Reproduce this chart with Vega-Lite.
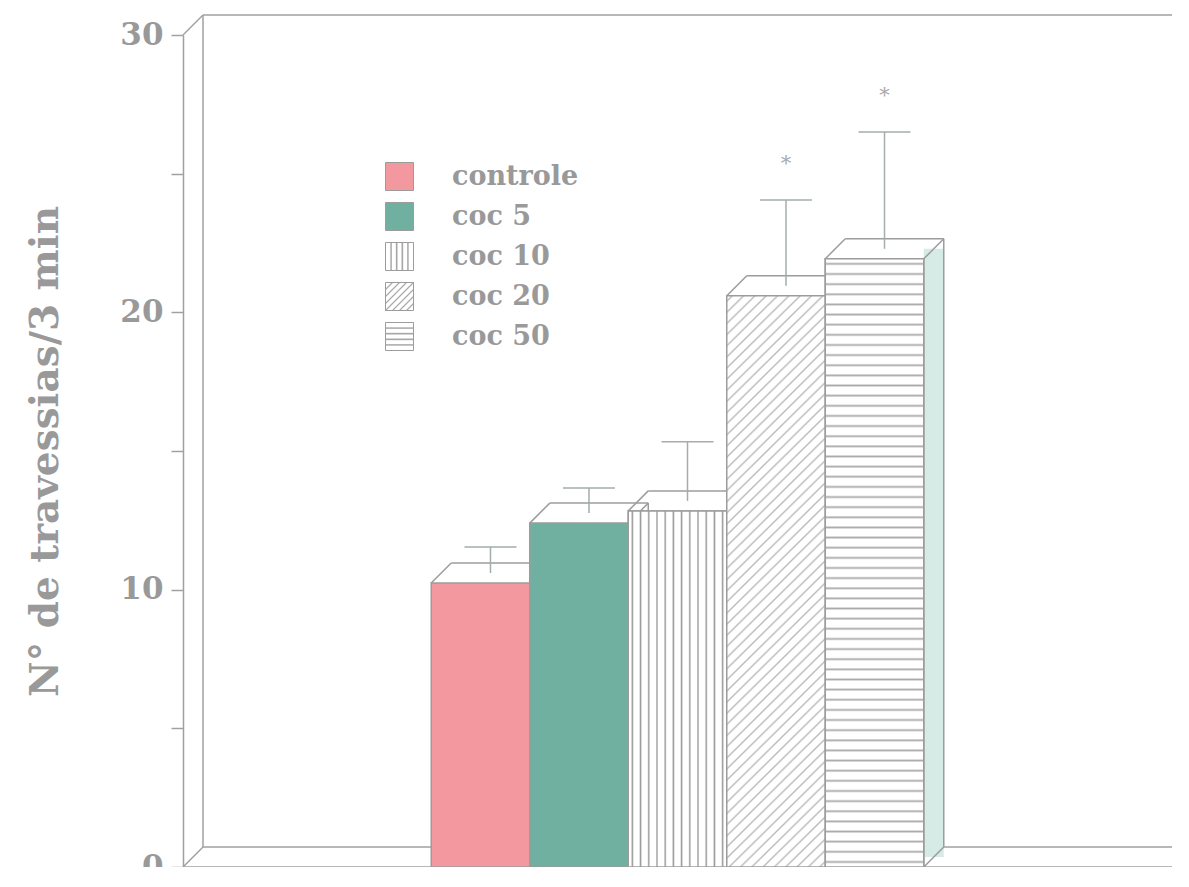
{
"$schema": "https://vega.github.io/schema/vega-lite/v6.json",
"width": 989,
"height": 832,
"autosize": "none",
"padding": {"left": 183, "top": 35, "right": 0, "bottom": 0},
"background": "white",
"config": {"view": {"stroke": null}},
"datasets": {
"grupos": [
{"grupo": "controle", "media": 10.24, "sup": 11.54, "sig": ""},
{"grupo": "coc 5", "media": 12.4, "sup": 13.67, "sig": ""},
{"grupo": "coc 10", "media": 12.84, "sup": 15.33, "sig": ""},
{"grupo": "coc 20", "media": 20.6, "sup": 24.05, "sig": "*"},
{"grupo": "coc 50", "media": 21.93, "sup": 26.5, "sig": "*"}
],
"moldura": [{"k": 1}]
},
"resolve": {"scale": {"x": "independent"}},
"layer": [
{
"data": {"name": "moldura"},
"encoding": {"x": {"datum": 0, "type": "quantitative", "scale": {"domain": [0, 1], "nice": false, "zero": false}, "axis": null}},
"layer": [
{"mark": {"type": "rule", "color": "#a0a0a0", "strokeWidth": 1.5, "xOffset": 20, "yOffset": -20, "y2Offset": -20},
 "encoding": {"x": {"datum": 0, "type": "quantitative"}, "y": {"datum": 0, "type": "quantitative"}, "y2": {"datum": 30}}},
{"mark": {"type": "rule", "color": "#a0a0a0", "strokeWidth": 1.5, "xOffset": 20, "x2Offset": 40, "yOffset": -20},
 "encoding": {"x": {"datum": 0, "type": "quantitative"}, "x2": {"datum": 1}, "y": {"datum": 30, "type": "quantitative"}}},
{"mark": {"type": "rule", "color": "#a0a0a0", "strokeWidth": 1.5, "xOffset": 20, "x2Offset": 20, "yOffset": -20},
 "encoding": {"x": {"datum": 0, "type": "quantitative"}, "x2": {"datum": 1}, "y": {"datum": 0, "type": "quantitative"}}},
{"mark": {"type": "rule", "color": "#a0a0a0", "strokeWidth": 1.5},
 "encoding": {"x": {"datum": 0, "type": "quantitative"}, "x2": {"datum": 1}, "y": {"datum": 0, "type": "quantitative"}}},
{"mark": {"type": "point", "shape": "M-1,1L1,-1", "size": 400, "filled": false, "opacity": 1, "stroke": "#a0a0a0", "strokeWidth": 1.5, "xOffset": 10, "yOffset": -10},
 "encoding": {"x": {"datum": 0, "type": "quantitative"}, "y": {"datum": 30, "type": "quantitative"}}},
{"mark": {"type": "point", "shape": "M-1,1L1,-1", "size": 400, "filled": false, "opacity": 1, "stroke": "#a0a0a0", "strokeWidth": 1.5, "xOffset": 10, "yOffset": -10},
 "encoding": {"x": {"datum": 0, "type": "quantitative"}, "y": {"datum": 0, "type": "quantitative"}}},
{"mark": {"type": "point", "shape": "M-1,1L1,-1", "size": 400, "filled": false, "opacity": 1, "stroke": "#a0a0a0", "strokeWidth": 1.5, "xOffset": 10, "yOffset": -10},
 "encoding": {"x": {"datum": 1, "type": "quantitative"}, "y": {"datum": 0, "type": "quantitative"}}}
]
},
{
"data": {"name": "grupos"},
"encoding": {
 "x": {"field": "grupo", "type": "nominal", "sort": null, "axis": null,
   "scale": {"domain": ["_a", "_b", "controle", "coc 5", "coc 10", "coc 20", "coc 50", "_c", "_d"], "paddingInner": 0, "paddingOuter": 0.52}}
},
"layer": [
{"mark": {"type": "bar", "width": 20, "xOffset": 59.25, "yOffset": -10, "y2Offset": -10, "fill": "#d6ebe5", "stroke": null},
 "encoding": {
  "y": {"field": "media", "type": "quantitative", "title": "N° de travessias/3 min",
    "scale": {"domain": [0, 30], "nice": false, "zero": true},
    "axis": {"title": "N° de travessias/3 min", "values": [0, 5, 10, 15, 20, 25, 30],
      "labelExpr": "datum.value % 10 === 0 ? datum.label : ''",
      "grid": false, "domainColor": "#a0a0a0", "domainWidth": 1.5, "tickColor": "#a0a0a0", "tickWidth": 1.5, "tickSize": 12,
      "labelFont": "DejaVu Serif", "labelFontWeight": "bold", "labelFontSize": 31, "labelColor": "#999999", "labelPadding": 8,
      "titleFont": "DejaVu Serif", "titleFontWeight": "bold", "titleFontSize": 39, "titleColor": "#999999", "titlePadding": 54}},
  "y2": {"datum": 0}}},
{"mark": {"type": "point", "shape": "M-1,1L1,-1", "size": 400, "filled": false, "opacity": 1, "stroke": "#9c9c9c", "strokeWidth": 1.5, "xOffset": 10, "yOffset": -10},
 "encoding": {"x": {"field": "grupo", "type": "nominal", "bandPosition": 0}, "y": {"field": "media", "type": "quantitative", "title": "N° de travessias/3 min"}}},
{"mark": {"type": "point", "shape": "M-1,1L1,-1", "size": 400, "filled": false, "opacity": 1, "stroke": "#9c9c9c", "strokeWidth": 1.5, "xOffset": 10, "yOffset": -10},
 "encoding": {"x": {"field": "grupo", "type": "nominal", "bandPosition": 1}, "y": {"field": "media", "type": "quantitative", "title": "N° de travessias/3 min"}}},
{"mark": {"type": "point", "shape": "M-1,1L1,-1", "size": 400, "filled": false, "opacity": 1, "stroke": "#9c9c9c", "strokeWidth": 1.5, "xOffset": 10, "yOffset": -10},
 "encoding": {"x": {"field": "grupo", "type": "nominal", "bandPosition": 1}, "y": {"datum": 0, "type": "quantitative"}}},
{"mark": {"type": "point", "shape": "M-1,0L1,0", "size": 9702, "filled": false, "opacity": 1, "stroke": "#9c9c9c", "strokeWidth": 1.5, "xOffset": 20, "yOffset": -20},
 "encoding": {"y": {"field": "media", "type": "quantitative", "title": "N° de travessias/3 min"}}},
{"mark": {"type": "rule", "color": "#9c9c9c", "strokeWidth": 1.5, "xOffset": 69.25, "yOffset": -20, "y2Offset": -20},
 "encoding": {"y": {"field": "media", "type": "quantitative", "title": "N° de travessias/3 min"}, "y2": {"datum": 0}}},
{"mark": {"type": "bar", "stroke": "#9c9c9c", "strokeWidth": 1.5},
 "encoding": {
  "y": {"field": "media", "type": "quantitative", "title": "N° de travessias/3 min"},
  "fill": {"field": "grupo", "type": "nominal", "sort": null,
    "scale": {"domain": ["controle", "coc 5", "coc 10", "coc 20", "coc 50"],
      "range": ["#f3989e", "#6fb0a1",
        {"expr": "{gradient:'linear',x1:0,y1:0,x2:1,y2:0,stops:[{offset:0.15,color:'#fff'},{offset:0.2,color:'#999'},{offset:0.25,color:'#fff'},{offset:0.35,color:'#fff'},{offset:0.4,color:'#999'},{offset:0.45,color:'#fff'},{offset:0.55,color:'#fff'},{offset:0.6,color:'#999'},{offset:0.65,color:'#fff'},{offset:0.75,color:'#fff'},{offset:0.8,color:'#999'},{offset:0.85,color:'#fff'}]}"},
        {"expr": "{gradient:'linear',x1:0,y1:0,x2:1,y2:1,stops:[{offset:0.095,color:'#fff'},{offset:0.125,color:'#aaa'},{offset:0.155,color:'#fff'},{offset:0.22,color:'#fff'},{offset:0.25,color:'#aaa'},{offset:0.28,color:'#fff'},{offset:0.345,color:'#fff'},{offset:0.375,color:'#aaa'},{offset:0.405,color:'#fff'},{offset:0.47,color:'#fff'},{offset:0.5,color:'#aaa'},{offset:0.53,color:'#fff'},{offset:0.595,color:'#fff'},{offset:0.625,color:'#aaa'},{offset:0.655,color:'#fff'},{offset:0.72,color:'#fff'},{offset:0.75,color:'#aaa'},{offset:0.78,color:'#fff'},{offset:0.845,color:'#fff'},{offset:0.875,color:'#aaa'},{offset:0.905,color:'#fff'}]}"},
        {"expr": "{gradient:'linear',x1:1,y1:0,x2:1,y2:1,stops:[{offset:0.15,color:'#fff'},{offset:0.2,color:'#999'},{offset:0.25,color:'#fff'},{offset:0.35,color:'#fff'},{offset:0.4,color:'#999'},{offset:0.45,color:'#fff'},{offset:0.55,color:'#fff'},{offset:0.6,color:'#999'},{offset:0.65,color:'#fff'},{offset:0.75,color:'#fff'},{offset:0.8,color:'#999'},{offset:0.85,color:'#fff'}]}"}
      ]},
    "legend": {"title": null, "orient": "none", "legendX": 202, "legendY": 127, "padding": 0,
      "symbolType": "square", "symbolSize": 784, "symbolStrokeColor": "#9c9c9c", "symbolStrokeWidth": 1,
      "labelFont": "DejaVu Serif", "labelFontWeight": "bold", "labelFontSize": 27, "labelColor": "#999999",
      "labelOffset": 38, "rowPadding": 7}}
 }},
{"transform": [{"filter": {"field": "grupo", "equal": "coc 10"}}],
 "mark": {"type": "bar", "stroke": "#9c9c9c", "strokeWidth": 1.5,
   "fill": {"gradient": "linear", "x1": 0, "y1": 0, "x2": 1, "y2": 0, "stops": [
          {"offset": 0.0267, "color": "#fff"}, {"offset": 0.0417, "color": "#999"}, {"offset": 0.0567, "color": "#fff"},
          {"offset": 0.11, "color": "#fff"}, {"offset": 0.125, "color": "#999"}, {"offset": 0.14, "color": "#fff"},
          {"offset": 0.1933, "color": "#fff"}, {"offset": 0.2083, "color": "#999"}, {"offset": 0.2233, "color": "#fff"},
          {"offset": 0.2767, "color": "#fff"}, {"offset": 0.2917, "color": "#999"}, {"offset": 0.3067, "color": "#fff"},
          {"offset": 0.36, "color": "#fff"}, {"offset": 0.375, "color": "#999"}, {"offset": 0.39, "color": "#fff"},
          {"offset": 0.4433, "color": "#fff"}, {"offset": 0.4583, "color": "#999"}, {"offset": 0.4733, "color": "#fff"},
          {"offset": 0.5267, "color": "#fff"}, {"offset": 0.5417, "color": "#999"}, {"offset": 0.5567, "color": "#fff"},
          {"offset": 0.61, "color": "#fff"}, {"offset": 0.625, "color": "#999"}, {"offset": 0.64, "color": "#fff"},
          {"offset": 0.6933, "color": "#fff"}, {"offset": 0.7083, "color": "#999"}, {"offset": 0.7233, "color": "#fff"},
          {"offset": 0.7767, "color": "#fff"}, {"offset": 0.7917, "color": "#999"}, {"offset": 0.8067, "color": "#fff"},
          {"offset": 0.86, "color": "#fff"}, {"offset": 0.875, "color": "#999"}, {"offset": 0.89, "color": "#fff"},
          {"offset": 0.9433, "color": "#fff"}, {"offset": 0.9583, "color": "#999"}, {"offset": 0.9733, "color": "#fff"}]}},
 "encoding": {"y": {"field": "media", "type": "quantitative", "title": "N° de travessias/3 min"}}},
{"transform": [{"filter": {"field": "grupo", "equal": "coc 20"}}],
 "mark": {"type": "bar", "stroke": "#9c9c9c", "strokeWidth": 1.5,
   "fill": {"gradient": "linear", "x1": 0, "y1": 0, "x2": 0.193, "y2": 1.137, "stops": [
          {"offset":0.0053,"color":"#fff"},{"offset":0.0083,"color":"#bbb"},{"offset":0.0113,"color":"#fff"},
          {"offset":0.022,"color":"#fff"},{"offset":0.025,"color":"#bbb"},{"offset":0.028,"color":"#fff"},
          {"offset":0.0387,"color":"#fff"},{"offset":0.0417,"color":"#bbb"},{"offset":0.0447,"color":"#fff"},
          {"offset":0.0553,"color":"#fff"},{"offset":0.0583,"color":"#bbb"},{"offset":0.0613,"color":"#fff"},
          {"offset":0.072,"color":"#fff"},{"offset":0.075,"color":"#bbb"},{"offset":0.078,"color":"#fff"},
          {"offset":0.0887,"color":"#fff"},{"offset":0.0917,"color":"#bbb"},{"offset":0.0947,"color":"#fff"},
          {"offset":0.1053,"color":"#fff"},{"offset":0.1083,"color":"#bbb"},{"offset":0.1113,"color":"#fff"},
          {"offset":0.122,"color":"#fff"},{"offset":0.125,"color":"#bbb"},{"offset":0.128,"color":"#fff"},
          {"offset":0.1387,"color":"#fff"},{"offset":0.1417,"color":"#bbb"},{"offset":0.1447,"color":"#fff"},
          {"offset":0.1553,"color":"#fff"},{"offset":0.1583,"color":"#bbb"},{"offset":0.1613,"color":"#fff"},
          {"offset":0.172,"color":"#fff"},{"offset":0.175,"color":"#bbb"},{"offset":0.178,"color":"#fff"},
          {"offset":0.1887,"color":"#fff"},{"offset":0.1917,"color":"#bbb"},{"offset":0.1947,"color":"#fff"},
          {"offset":0.2053,"color":"#fff"},{"offset":0.2083,"color":"#bbb"},{"offset":0.2113,"color":"#fff"},
          {"offset":0.222,"color":"#fff"},{"offset":0.225,"color":"#bbb"},{"offset":0.228,"color":"#fff"},
          {"offset":0.2387,"color":"#fff"},{"offset":0.2417,"color":"#bbb"},{"offset":0.2447,"color":"#fff"},
          {"offset":0.2553,"color":"#fff"},{"offset":0.2583,"color":"#bbb"},{"offset":0.2613,"color":"#fff"},
          {"offset":0.272,"color":"#fff"},{"offset":0.275,"color":"#bbb"},{"offset":0.278,"color":"#fff"},
          {"offset":0.2887,"color":"#fff"},{"offset":0.2917,"color":"#bbb"},{"offset":0.2947,"color":"#fff"},
          {"offset":0.3053,"color":"#fff"},{"offset":0.3083,"color":"#bbb"},{"offset":0.3113,"color":"#fff"},
          {"offset":0.322,"color":"#fff"},{"offset":0.325,"color":"#bbb"},{"offset":0.328,"color":"#fff"},
          {"offset":0.3387,"color":"#fff"},{"offset":0.3417,"color":"#bbb"},{"offset":0.3447,"color":"#fff"},
          {"offset":0.3553,"color":"#fff"},{"offset":0.3583,"color":"#bbb"},{"offset":0.3613,"color":"#fff"},
          {"offset":0.372,"color":"#fff"},{"offset":0.375,"color":"#bbb"},{"offset":0.378,"color":"#fff"},
          {"offset":0.3887,"color":"#fff"},{"offset":0.3917,"color":"#bbb"},{"offset":0.3947,"color":"#fff"},
          {"offset":0.4053,"color":"#fff"},{"offset":0.4083,"color":"#bbb"},{"offset":0.4113,"color":"#fff"},
          {"offset":0.422,"color":"#fff"},{"offset":0.425,"color":"#bbb"},{"offset":0.428,"color":"#fff"},
          {"offset":0.4387,"color":"#fff"},{"offset":0.4417,"color":"#bbb"},{"offset":0.4447,"color":"#fff"},
          {"offset":0.4553,"color":"#fff"},{"offset":0.4583,"color":"#bbb"},{"offset":0.4613,"color":"#fff"},
          {"offset":0.472,"color":"#fff"},{"offset":0.475,"color":"#bbb"},{"offset":0.478,"color":"#fff"},
          {"offset":0.4887,"color":"#fff"},{"offset":0.4917,"color":"#bbb"},{"offset":0.4947,"color":"#fff"},
          {"offset":0.5053,"color":"#fff"},{"offset":0.5083,"color":"#bbb"},{"offset":0.5113,"color":"#fff"},
          {"offset":0.522,"color":"#fff"},{"offset":0.525,"color":"#bbb"},{"offset":0.528,"color":"#fff"},
          {"offset":0.5387,"color":"#fff"},{"offset":0.5417,"color":"#bbb"},{"offset":0.5447,"color":"#fff"},
          {"offset":0.5553,"color":"#fff"},{"offset":0.5583,"color":"#bbb"},{"offset":0.5613,"color":"#fff"},
          {"offset":0.572,"color":"#fff"},{"offset":0.575,"color":"#bbb"},{"offset":0.578,"color":"#fff"},
          {"offset":0.5887,"color":"#fff"},{"offset":0.5917,"color":"#bbb"},{"offset":0.5947,"color":"#fff"},
          {"offset":0.6053,"color":"#fff"},{"offset":0.6083,"color":"#bbb"},{"offset":0.6113,"color":"#fff"},
          {"offset":0.622,"color":"#fff"},{"offset":0.625,"color":"#bbb"},{"offset":0.628,"color":"#fff"},
          {"offset":0.6387,"color":"#fff"},{"offset":0.6417,"color":"#bbb"},{"offset":0.6447,"color":"#fff"},
          {"offset":0.6553,"color":"#fff"},{"offset":0.6583,"color":"#bbb"},{"offset":0.6613,"color":"#fff"},
          {"offset":0.672,"color":"#fff"},{"offset":0.675,"color":"#bbb"},{"offset":0.678,"color":"#fff"},
          {"offset":0.6887,"color":"#fff"},{"offset":0.6917,"color":"#bbb"},{"offset":0.6947,"color":"#fff"},
          {"offset":0.7053,"color":"#fff"},{"offset":0.7083,"color":"#bbb"},{"offset":0.7113,"color":"#fff"},
          {"offset":0.722,"color":"#fff"},{"offset":0.725,"color":"#bbb"},{"offset":0.728,"color":"#fff"},
          {"offset":0.7387,"color":"#fff"},{"offset":0.7417,"color":"#bbb"},{"offset":0.7447,"color":"#fff"},
          {"offset":0.7553,"color":"#fff"},{"offset":0.7583,"color":"#bbb"},{"offset":0.7613,"color":"#fff"},
          {"offset":0.772,"color":"#fff"},{"offset":0.775,"color":"#bbb"},{"offset":0.778,"color":"#fff"},
          {"offset":0.7887,"color":"#fff"},{"offset":0.7917,"color":"#bbb"},{"offset":0.7947,"color":"#fff"},
          {"offset":0.8053,"color":"#fff"},{"offset":0.8083,"color":"#bbb"},{"offset":0.8113,"color":"#fff"},
          {"offset":0.822,"color":"#fff"},{"offset":0.825,"color":"#bbb"},{"offset":0.828,"color":"#fff"},
          {"offset":0.8387,"color":"#fff"},{"offset":0.8417,"color":"#bbb"},{"offset":0.8447,"color":"#fff"},
          {"offset":0.8553,"color":"#fff"},{"offset":0.8583,"color":"#bbb"},{"offset":0.8613,"color":"#fff"},
          {"offset":0.872,"color":"#fff"},{"offset":0.875,"color":"#bbb"},{"offset":0.878,"color":"#fff"},
          {"offset":0.8887,"color":"#fff"},{"offset":0.8917,"color":"#bbb"},{"offset":0.8947,"color":"#fff"},
          {"offset":0.9053,"color":"#fff"},{"offset":0.9083,"color":"#bbb"},{"offset":0.9113,"color":"#fff"},
          {"offset":0.922,"color":"#fff"},{"offset":0.925,"color":"#bbb"},{"offset":0.928,"color":"#fff"},
          {"offset":0.9387,"color":"#fff"},{"offset":0.9417,"color":"#bbb"},{"offset":0.9447,"color":"#fff"},
          {"offset":0.9553,"color":"#fff"},{"offset":0.9583,"color":"#bbb"},{"offset":0.9613,"color":"#fff"},
          {"offset":0.972,"color":"#fff"},{"offset":0.975,"color":"#bbb"},{"offset":0.978,"color":"#fff"},
          {"offset":0.9887,"color":"#fff"},{"offset":0.9917,"color":"#bbb"},{"offset":0.9947,"color":"#fff"}]}},
 "encoding": {"y": {"field": "media", "type": "quantitative", "title": "N° de travessias/3 min"}}},
{"transform": [{"filter": {"field": "grupo", "equal": "coc 50"}}],
 "mark": {"type": "bar", "stroke": "#9c9c9c", "strokeWidth": 1.5,
   "fill": {"gradient": "linear", "x1": 1, "y1": 0, "x2": 1, "y2": 1, "stops": [
          {"offset":0.0053,"color":"#fff"},{"offset":0.0083,"color":"#aaa"},{"offset":0.0113,"color":"#fff"},
          {"offset":0.022,"color":"#fff"},{"offset":0.025,"color":"#aaa"},{"offset":0.028,"color":"#fff"},
          {"offset":0.0387,"color":"#fff"},{"offset":0.0417,"color":"#aaa"},{"offset":0.0447,"color":"#fff"},
          {"offset":0.0553,"color":"#fff"},{"offset":0.0583,"color":"#aaa"},{"offset":0.0613,"color":"#fff"},
          {"offset":0.072,"color":"#fff"},{"offset":0.075,"color":"#aaa"},{"offset":0.078,"color":"#fff"},
          {"offset":0.0887,"color":"#fff"},{"offset":0.0917,"color":"#aaa"},{"offset":0.0947,"color":"#fff"},
          {"offset":0.1053,"color":"#fff"},{"offset":0.1083,"color":"#aaa"},{"offset":0.1113,"color":"#fff"},
          {"offset":0.122,"color":"#fff"},{"offset":0.125,"color":"#aaa"},{"offset":0.128,"color":"#fff"},
          {"offset":0.1387,"color":"#fff"},{"offset":0.1417,"color":"#aaa"},{"offset":0.1447,"color":"#fff"},
          {"offset":0.1553,"color":"#fff"},{"offset":0.1583,"color":"#aaa"},{"offset":0.1613,"color":"#fff"},
          {"offset":0.172,"color":"#fff"},{"offset":0.175,"color":"#aaa"},{"offset":0.178,"color":"#fff"},
          {"offset":0.1887,"color":"#fff"},{"offset":0.1917,"color":"#aaa"},{"offset":0.1947,"color":"#fff"},
          {"offset":0.2053,"color":"#fff"},{"offset":0.2083,"color":"#aaa"},{"offset":0.2113,"color":"#fff"},
          {"offset":0.222,"color":"#fff"},{"offset":0.225,"color":"#aaa"},{"offset":0.228,"color":"#fff"},
          {"offset":0.2387,"color":"#fff"},{"offset":0.2417,"color":"#aaa"},{"offset":0.2447,"color":"#fff"},
          {"offset":0.2553,"color":"#fff"},{"offset":0.2583,"color":"#aaa"},{"offset":0.2613,"color":"#fff"},
          {"offset":0.272,"color":"#fff"},{"offset":0.275,"color":"#aaa"},{"offset":0.278,"color":"#fff"},
          {"offset":0.2887,"color":"#fff"},{"offset":0.2917,"color":"#aaa"},{"offset":0.2947,"color":"#fff"},
          {"offset":0.3053,"color":"#fff"},{"offset":0.3083,"color":"#aaa"},{"offset":0.3113,"color":"#fff"},
          {"offset":0.322,"color":"#fff"},{"offset":0.325,"color":"#aaa"},{"offset":0.328,"color":"#fff"},
          {"offset":0.3387,"color":"#fff"},{"offset":0.3417,"color":"#aaa"},{"offset":0.3447,"color":"#fff"},
          {"offset":0.3553,"color":"#fff"},{"offset":0.3583,"color":"#aaa"},{"offset":0.3613,"color":"#fff"},
          {"offset":0.372,"color":"#fff"},{"offset":0.375,"color":"#aaa"},{"offset":0.378,"color":"#fff"},
          {"offset":0.3887,"color":"#fff"},{"offset":0.3917,"color":"#aaa"},{"offset":0.3947,"color":"#fff"},
          {"offset":0.4053,"color":"#fff"},{"offset":0.4083,"color":"#aaa"},{"offset":0.4113,"color":"#fff"},
          {"offset":0.422,"color":"#fff"},{"offset":0.425,"color":"#aaa"},{"offset":0.428,"color":"#fff"},
          {"offset":0.4387,"color":"#fff"},{"offset":0.4417,"color":"#aaa"},{"offset":0.4447,"color":"#fff"},
          {"offset":0.4553,"color":"#fff"},{"offset":0.4583,"color":"#aaa"},{"offset":0.4613,"color":"#fff"},
          {"offset":0.472,"color":"#fff"},{"offset":0.475,"color":"#aaa"},{"offset":0.478,"color":"#fff"},
          {"offset":0.4887,"color":"#fff"},{"offset":0.4917,"color":"#aaa"},{"offset":0.4947,"color":"#fff"},
          {"offset":0.5053,"color":"#fff"},{"offset":0.5083,"color":"#aaa"},{"offset":0.5113,"color":"#fff"},
          {"offset":0.522,"color":"#fff"},{"offset":0.525,"color":"#aaa"},{"offset":0.528,"color":"#fff"},
          {"offset":0.5387,"color":"#fff"},{"offset":0.5417,"color":"#aaa"},{"offset":0.5447,"color":"#fff"},
          {"offset":0.5553,"color":"#fff"},{"offset":0.5583,"color":"#aaa"},{"offset":0.5613,"color":"#fff"},
          {"offset":0.572,"color":"#fff"},{"offset":0.575,"color":"#aaa"},{"offset":0.578,"color":"#fff"},
          {"offset":0.5887,"color":"#fff"},{"offset":0.5917,"color":"#aaa"},{"offset":0.5947,"color":"#fff"},
          {"offset":0.6053,"color":"#fff"},{"offset":0.6083,"color":"#aaa"},{"offset":0.6113,"color":"#fff"},
          {"offset":0.622,"color":"#fff"},{"offset":0.625,"color":"#aaa"},{"offset":0.628,"color":"#fff"},
          {"offset":0.6387,"color":"#fff"},{"offset":0.6417,"color":"#aaa"},{"offset":0.6447,"color":"#fff"},
          {"offset":0.6553,"color":"#fff"},{"offset":0.6583,"color":"#aaa"},{"offset":0.6613,"color":"#fff"},
          {"offset":0.672,"color":"#fff"},{"offset":0.675,"color":"#aaa"},{"offset":0.678,"color":"#fff"},
          {"offset":0.6887,"color":"#fff"},{"offset":0.6917,"color":"#aaa"},{"offset":0.6947,"color":"#fff"},
          {"offset":0.7053,"color":"#fff"},{"offset":0.7083,"color":"#aaa"},{"offset":0.7113,"color":"#fff"},
          {"offset":0.722,"color":"#fff"},{"offset":0.725,"color":"#aaa"},{"offset":0.728,"color":"#fff"},
          {"offset":0.7387,"color":"#fff"},{"offset":0.7417,"color":"#aaa"},{"offset":0.7447,"color":"#fff"},
          {"offset":0.7553,"color":"#fff"},{"offset":0.7583,"color":"#aaa"},{"offset":0.7613,"color":"#fff"},
          {"offset":0.772,"color":"#fff"},{"offset":0.775,"color":"#aaa"},{"offset":0.778,"color":"#fff"},
          {"offset":0.7887,"color":"#fff"},{"offset":0.7917,"color":"#aaa"},{"offset":0.7947,"color":"#fff"},
          {"offset":0.8053,"color":"#fff"},{"offset":0.8083,"color":"#aaa"},{"offset":0.8113,"color":"#fff"},
          {"offset":0.822,"color":"#fff"},{"offset":0.825,"color":"#aaa"},{"offset":0.828,"color":"#fff"},
          {"offset":0.8387,"color":"#fff"},{"offset":0.8417,"color":"#aaa"},{"offset":0.8447,"color":"#fff"},
          {"offset":0.8553,"color":"#fff"},{"offset":0.8583,"color":"#aaa"},{"offset":0.8613,"color":"#fff"},
          {"offset":0.872,"color":"#fff"},{"offset":0.875,"color":"#aaa"},{"offset":0.878,"color":"#fff"},
          {"offset":0.8887,"color":"#fff"},{"offset":0.8917,"color":"#aaa"},{"offset":0.8947,"color":"#fff"},
          {"offset":0.9053,"color":"#fff"},{"offset":0.9083,"color":"#aaa"},{"offset":0.9113,"color":"#fff"},
          {"offset":0.922,"color":"#fff"},{"offset":0.925,"color":"#aaa"},{"offset":0.928,"color":"#fff"},
          {"offset":0.9387,"color":"#fff"},{"offset":0.9417,"color":"#aaa"},{"offset":0.9447,"color":"#fff"},
          {"offset":0.9553,"color":"#fff"},{"offset":0.9583,"color":"#aaa"},{"offset":0.9613,"color":"#fff"},
          {"offset":0.972,"color":"#fff"},{"offset":0.975,"color":"#aaa"},{"offset":0.978,"color":"#fff"},
          {"offset":0.9887,"color":"#fff"},{"offset":0.9917,"color":"#aaa"},{"offset":0.9947,"color":"#fff"}]}},
 "encoding": {"y": {"field": "media", "type": "quantitative", "title": "N° de travessias/3 min"}}},
{"mark": {"type": "rule", "color": "#a3aeab", "strokeWidth": 1.5, "xOffset": 10, "yOffset": -10},
 "encoding": {"y": {"field": "media", "type": "quantitative", "title": "N° de travessias/3 min"}, "y2": {"field": "sup"}}},
{"mark": {"type": "point", "shape": "M-1,0L1,0", "size": 2704, "filled": false, "opacity": 1, "stroke": "#a3aeab", "strokeWidth": 1.5, "xOffset": 10},
 "encoding": {"y": {"field": "sup", "type": "quantitative", "title": "N° de travessias/3 min"}}},
{"mark": {"type": "text", "font": "DejaVu Serif", "fontSize": 21, "color": "#aaaaaa", "xOffset": 10, "yOffset": -36, "baseline": "middle"},
 "encoding": {"y": {"field": "sup", "type": "quantitative", "title": "N° de travessias/3 min"}, "text": {"field": "sig"}}}
]
}
]
}
